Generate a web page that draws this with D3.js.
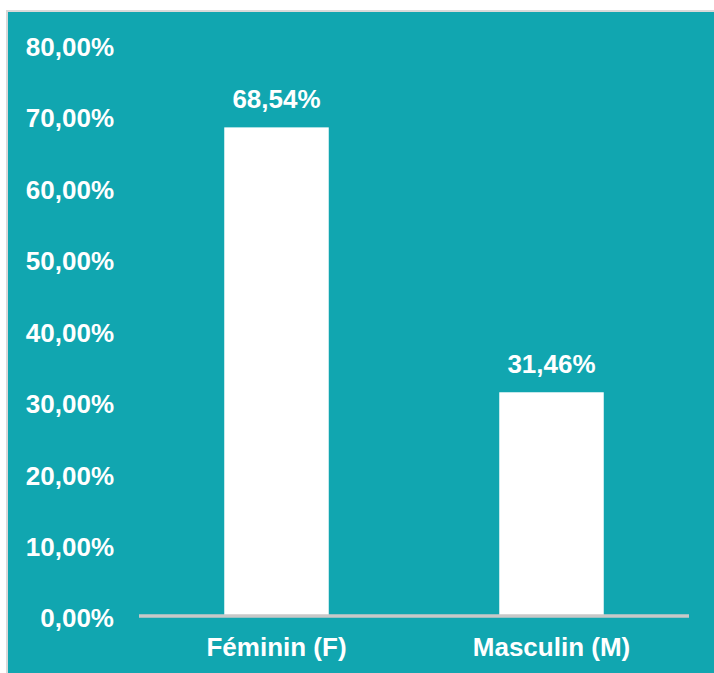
<!DOCTYPE html>
<html><head><meta charset="utf-8">
<script src="https://cdn.jsdelivr.net/npm/d3@7"></script>
<style>html,body{margin:0;padding:0;background:#fff;}svg{display:block;}</style>
</head><body>
<svg id="chart" width="714" height="673"></svg>
<script>
const categories = ["Féminin (F)", "Masculin (M)"];
const values = [68.54, 31.46];
const valueLabels = ["68,54%", "31,46%"];
const tickValues = [0, 10, 20, 30, 40, 50, 60, 70, 80];
const tickLabels = ["0,00%", "10,00%", "20,00%", "30,00%", "40,00%", "50,00%", "60,00%", "70,00%", "80,00%"];

const svg = d3.select("#chart");
const W = 714, H = 673;
const teal = "#11a6b0";
const font = "'Liberation Sans', Arial, sans-serif";

// frame
svg.append("rect").attr("x", 6).attr("y", 10).attr("width", W - 6).attr("height", H - 10).attr("fill", "#d9d9d9");
svg.append("rect").attr("x", 8).attr("y", 12).attr("width", W - 8).attr("height", H - 12).attr("fill", teal);

const x = d3.scaleBand().domain(categories).range([139, 689]).paddingInner(0.62).paddingOuter(0.31);
const y = d3.scaleLinear().domain([0, 80]).range([617, 45.5]);

const g = svg.append("g");

// bars
g.selectAll("rect.bar").data(values).enter().append("rect")
  .attr("class", "bar")
  .attr("x", (d, i) => x(categories[i]))
  .attr("width", x.bandwidth())
  .attr("y", d => y(d))
  .attr("height", d => y(0) - y(d))
  .attr("fill", "#ffffff");

// x axis line
const xAxis = g.append("g").attr("transform", `translate(0,${y(0) - 1})`)
  .call(d3.axisBottom(x).tickSize(0).tickPadding(22));
xAxis.select(".domain").attr("stroke", "#c8c8c8").attr("stroke-width", 3.5).attr("d", "M139,0H689");
xAxis.selectAll("text").attr("fill", "#fff").attr("font-family", font).attr("font-weight", "bold").attr("font-size", "26px");

// y axis labels
const yAxis = g.append("g").attr("transform", "translate(114,0)")
  .call(d3.axisLeft(y).tickValues(tickValues).tickFormat((d, i) => tickLabels[i]).tickSize(0).tickPadding(0));
yAxis.select(".domain").remove();
yAxis.selectAll("text").attr("fill", "#fff").attr("font-family", font).attr("font-weight", "bold").attr("font-size", "26px").attr("dy", "0.38em");

// value labels
g.selectAll("text.val").data(values).enter().append("text")
  .attr("class", "val")
  .attr("x", (d, i) => x(categories[i]) + x.bandwidth() / 2)
  .attr("y", d => y(d) - 19)
  .attr("text-anchor", "middle")
  .attr("fill", "#fff").attr("font-family", font).attr("font-weight", "bold").attr("font-size", "26px")
  .text((d, i) => valueLabels[i]);
</script>
</body></html>
